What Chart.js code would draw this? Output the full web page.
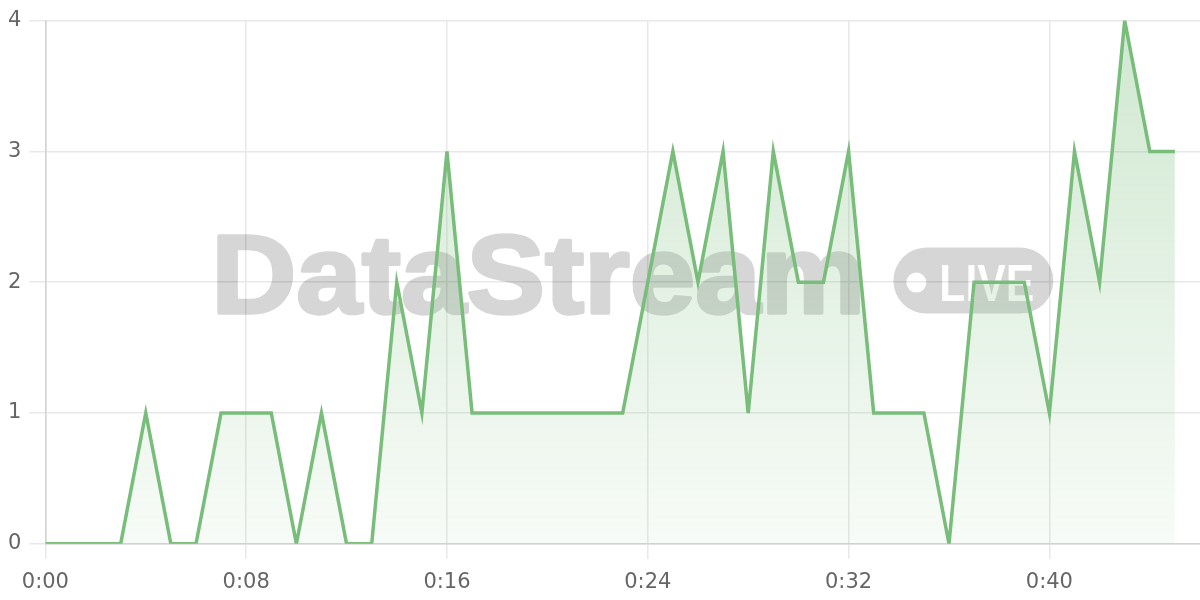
<!DOCTYPE html>
<html>
<head>
<meta charset="utf-8">
<script src="https://cdn.jsdelivr.net/npm/chart.js@4"></script>
<style>
  html, body { margin: 0; padding: 0; background: #fff; }
  #wrap { width: 1200px; height: 600px; }
</style>
</head>
<body>
<div id="wrap"><canvas id="streamChart"></canvas></div>
<script>
// seconds since start
const seconds = [0, 1, 2, 3, 4, 5, 6, 7, 8, 9, 10, 11, 12, 13, 14, 15, 16, 17, 18, 19, 20, 21, 22,
  23, 24, 25, 26, 27, 28, 29, 30, 31, 32, 33, 34, 35, 36, 37, 38, 39, 40, 41, 42, 43, 44, 45];
// events per second
const counts = [0, 0, 0, 0, 1, 0, 0, 1, 1, 1, 0, 1, 0, 0, 2, 1, 3, 1, 1, 1, 1, 1, 1,
  1, 2, 3, 2, 3, 1, 3, 2, 2, 3, 1, 1, 1, 0, 2, 2, 2, 1, 3, 2, 4, 3, 3];
const xTicks = [0, 8, 16, 24, 32, 40];
const yTicks = [0, 1, 2, 3, 4];

const lineColor = '#78bd7a';
const labelFont = '"DejaVu Sans", Verdana, sans-serif';
const markFont = '"Liberation Sans", Helvetica, Arial, sans-serif';

function fmtTime(v) {
  const m = Math.floor(v / 60);
  const s = v % 60;
  return m + ':' + String(s).padStart(2, '0');
}

// text squeezed/stretched horizontally to an exact width
function fitText(o, text, x, y, width, stroke) {
  const w = o.measureText(text).width;
  o.save();
  o.translate(x, y);
  o.scale(width / w, 1);
  o.fillText(text, 0, 0);
  if (stroke) o.strokeText(text, 0, 0);
  o.restore();
}

// watermark "DataStream (LIVE)", drawn solid offscreen then blended in
const watermark = {
  id: 'watermark',
  beforeDatasetsDraw(chart) {
    const area = chart.chartArea;
    const off = document.createElement('canvas');
    off.width = chart.width; off.height = chart.height;
    const o = off.getContext('2d');
    const baseY = area.top + 292;

    o.fillStyle = '#000';
    o.strokeStyle = '#000';
    o.lineWidth = 3.5;
    o.lineJoin = 'round';
    o.font = 'bold 112px ' + markFont;
    o.textBaseline = 'alphabetic';
    fitText(o, 'DataStream', area.left + 166, baseY, 654, true);

    // pill
    const px = area.left + 848, py = area.top + 227;
    o.beginPath();
    o.roundRect(px, py, 160, 66, 33);
    o.fill();
    o.globalCompositeOperation = 'destination-out';
    o.beginPath();
    o.arc(px + 23, py + 35, 10, 0, Math.PI * 2);
    o.fill();
    o.font = 'bold 51px ' + markFont;
    fitText(o, 'LIVE', px + 46, py + 73 - 20, 95, false);

    const ctx = chart.ctx;
    ctx.save();
    ctx.globalAlpha = 0.16;
    ctx.drawImage(off, 0, 0, chart.width, chart.height);
    ctx.restore();
  }
};

const ctx = document.getElementById('streamChart').getContext('2d');

new Chart(ctx, {
  type: 'line',
  data: {
    datasets: [{
      data: seconds.map((s, i) => ({ x: s, y: counts[i] })),
      borderColor: lineColor,
      borderWidth: 3.5,
      pointRadius: 0,
      tension: 0,
      fill: 'origin',
      backgroundColor: function (c) {
        const area = c.chart.chartArea;
        if (!area) return 'rgba(120,189,122,0.2)';
        const g = c.chart.ctx.createLinearGradient(0, area.top, 0, area.bottom);
        g.addColorStop(0, 'rgba(120,189,122,0.35)');
        g.addColorStop(1, 'rgba(120,189,122,0.06)');
        return g;
      }
    }]
  },
  options: {
    responsive: true,
    maintainAspectRatio: false,
    animation: false,
    layout: { padding: { top: 8, right: 0, left: 0, bottom: -6 } },
    plugins: {
      legend: { display: false },
      tooltip: { enabled: false }
    },
    scales: {
      x: {
        type: 'linear',
        min: 0,
        max: 46,
        afterBuildTicks: axis => { axis.ticks = xTicks.map(v => ({ value: v })); },
        grid: { color: '#e8e8e8', lineWidth: 1.5, tickLength: 15 },
        border: { color: '#d2d2d2', width: 1.5 },
        ticks: {
          color: '#666',
          padding: 11,
          font: { size: 21, family: labelFont },
          callback: v => fmtTime(v)
        }
      },
      y: {
        min: 0,
        max: 4,
        afterBuildTicks: axis => { axis.ticks = yTicks.map(v => ({ value: v })); },
        grid: { color: '#e8e8e8', lineWidth: 1.5, tickLength: 16 },
        border: { color: '#d2d2d2', width: 1.5 },
        ticks: {
          color: '#666',
          padding: 8,
          font: { size: 21, family: labelFont }
        }
      }
    }
  },
  plugins: [watermark]
});
</script>
</body>
</html>
